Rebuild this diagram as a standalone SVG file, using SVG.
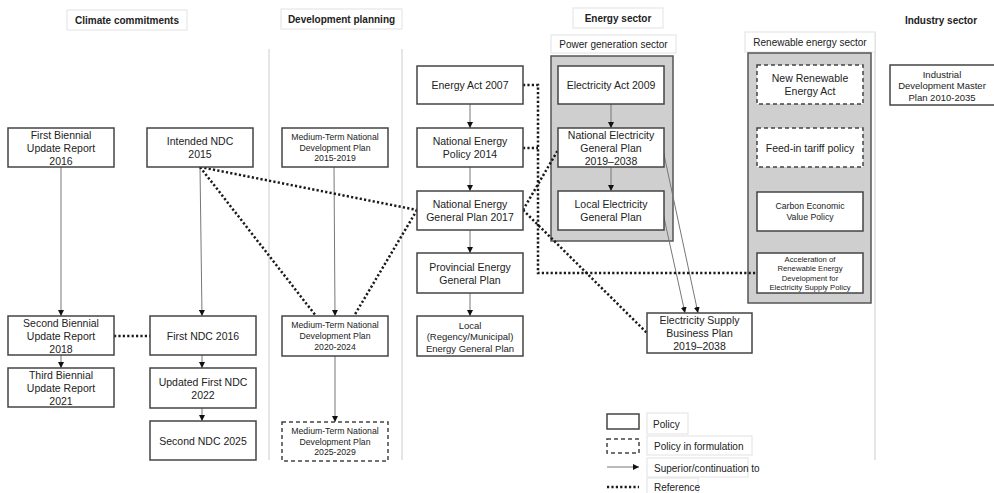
<svg xmlns="http://www.w3.org/2000/svg" width="994" height="493" viewBox="0 0 994 493">
<defs>
<marker id="arr" viewBox="0 0 10 10" refX="10" refY="5" markerWidth="6" markerHeight="6" orient="auto" markerUnits="userSpaceOnUse"><path d="M0,0 L10,5 L0,10 z" fill="#111"/></marker>
<style>
text{font-family:"Liberation Sans",Arial,sans-serif;fill:#222;dominant-baseline:central}
.t{font-size:10.5px;text-anchor:middle}
.s{font-size:8.7px;text-anchor:middle}
.m{font-size:9.5px;text-anchor:middle}
.xs{font-size:7.7px;text-anchor:middle}
.h{font-size:10px;font-weight:bold;text-anchor:middle}
.l{font-size:10px}
.lc{font-size:10px;text-anchor:middle}
.box{fill:#fff;stroke:#444;stroke-width:1.5}
.dbox{fill:#fff;stroke:#444;stroke-width:1.5;stroke-dasharray:4 3}
.lab{fill:#fff;stroke:#e2e2e2;stroke-width:1}
.grp{fill:#cfcfcf;stroke:#555;stroke-width:1.5}
.sep{stroke:#ccc;stroke-width:1;fill:none}
.sol{stroke:#777;stroke-width:1;fill:none;marker-end:url(#arr)}
.dot{stroke:#1a1a1a;stroke-width:2.5;fill:none;stroke-dasharray:2.2 2.2}
</style>
</defs>
<rect width="994" height="493" fill="#fff"/>

<g id="separators">
<line class="sep" x1="269" y1="49" x2="269" y2="460"/>
<line class="sep" x1="402" y1="49" x2="402" y2="460"/>
<line class="sep" x1="875" y1="33" x2="875" y2="460"/>
</g>

<g id="headers">
<rect class="lab" x="67" y="10" width="120" height="20"/>
<text class="h" x="127" y="20">Climate commitments</text>
<rect class="lab" x="281" y="9" width="121" height="20"/>
<text class="h" x="341.5" y="19">Development planning</text>
<rect class="lab" x="573" y="8" width="90" height="20"/>
<text class="h" x="618" y="18.5">Energy sector</text>
<text class="h" x="941" y="20">Industry sector</text>
</g>

<g id="power-sector">
<rect class="lab" x="551" y="35" width="125" height="18"/>
<text class="lc" x="613.5" y="44.5">Power generation sector</text>
<rect class="grp" x="551" y="56" width="122" height="185"/>
</g>
<g id="renewable-sector">
<rect class="lab" x="745" y="32" width="130" height="20"/>
<text class="lc" x="810" y="42.5">Renewable energy sector</text>
<rect class="grp" x="748" y="53" width="123" height="250"/>
</g>

<g id="connectors">
<path class="sol" d="M61,167 V316"/>
<path class="sol" d="M61,355 V368"/>
<path class="sol" d="M200,167 L202,316"/>
<path class="sol" d="M202,355 V368"/>
<path class="sol" d="M202,408 V421"/>
<path class="sol" d="M334,167 L335,316"/>
<path class="sol" d="M335,356 V422"/>
<path class="sol" d="M470,104 V128"/>
<path class="sol" d="M470,167 V191"/>
<path class="sol" d="M470,230 V253"/>
<path class="sol" d="M470,293 V316"/>
<path class="sol" d="M611,104 V128"/>
<path class="sol" d="M611,167 V191"/>
<path class="sol" d="M663,150 L698,313"/>
<path class="sol" d="M663,213 L685,313"/>
<path class="dot" d="M114,336 H150"/>
<path class="dot" d="M200,167 L417,210"/>
<path class="dot" d="M200,167 L316,316"/>
<path class="dot" d="M417,210 L354,316"/>
<path class="dot" d="M523,85 H538 V273 H757"/>
<path class="dot" d="M523,148 H538"/>
<path class="dot" d="M523,210 L558,150"/>
<path class="dot" d="M523,210 L647,333"/>
</g>

<g id="fbur"><rect class="box" x="8" y="128" width="106" height="39"/>
<text class="t"><tspan x="61" y="134.5">First Biennial</tspan><tspan x="61" y="147.5">Update Report</tspan><tspan x="61" y="160.5">2016</tspan></text></g>
<g id="indc"><rect class="box" x="147" y="128" width="106" height="39"/>
<text class="t"><tspan x="200" y="141">Intended NDC</tspan><tspan x="200" y="154">2015</tspan></text></g>
<g id="mtndp1"><rect class="box" x="282" y="128" width="106" height="39"/>
<text class="s"><tspan x="335" y="136.8">Medium-Term National</tspan><tspan x="335" y="147.5">Development Plan</tspan><tspan x="335" y="158.2">2015-2019</tspan></text></g>
<g id="sbur"><rect class="box" x="8" y="316" width="106" height="39"/>
<text class="t"><tspan x="61" y="322.5">Second Biennial</tspan><tspan x="61" y="335.5">Update Report</tspan><tspan x="61" y="348.5">2018</tspan></text></g>
<g id="tbur"><rect class="box" x="8" y="368" width="106" height="39"/>
<text class="t"><tspan x="61" y="374.5">Third Biennial</tspan><tspan x="61" y="387.5">Update Report</tspan><tspan x="61" y="400.5">2021</tspan></text></g>
<g id="fndc"><rect class="box" x="150" y="316" width="106" height="39"/>
<text class="t" x="203" y="335.5">First NDC 2016</text></g>
<g id="ufndc"><rect class="box" x="150" y="368" width="106" height="40"/>
<text class="t"><tspan x="203" y="381.5">Updated First NDC</tspan><tspan x="203" y="394.5">2022</tspan></text></g>
<g id="sndc"><rect class="box" x="150" y="421" width="106" height="39"/>
<text class="t" x="203" y="440.5">Second NDC 2025</text></g>
<g id="mtndp2"><rect class="box" x="282" y="316" width="106" height="40"/>
<text class="s"><tspan x="335" y="325.3">Medium-Term National</tspan><tspan x="335" y="336">Development Plan</tspan><tspan x="335" y="346.7">2020-2024</tspan></text></g>
<g id="mtndp3"><rect class="dbox" x="282" y="422" width="106" height="39"/>
<text class="s"><tspan x="335" y="430.8">Medium-Term National</tspan><tspan x="335" y="441.5">Development Plan</tspan><tspan x="335" y="452.2">2025-2029</tspan></text></g>

<g id="ea2007"><rect class="box" x="417" y="66" width="106" height="38"/>
<text class="t" x="470" y="85">Energy Act 2007</text></g>
<g id="nep2014"><rect class="box" x="417" y="128" width="106" height="39"/>
<text class="t"><tspan x="470" y="141">National Energy</tspan><tspan x="470" y="154">Policy 2014</tspan></text></g>
<g id="negp2017"><rect class="box" x="417" y="191" width="106" height="39"/>
<text class="t"><tspan x="470" y="204">National Energy</tspan><tspan x="470" y="217">General Plan 2017</tspan></text></g>
<g id="pegp"><rect class="box" x="417" y="253" width="106" height="40"/>
<text class="t"><tspan x="470" y="266.5">Provincial Energy</tspan><tspan x="470" y="279.5">General Plan</tspan></text></g>
<g id="legp"><rect class="box" x="417" y="316" width="106" height="40"/>
<text class="m"><tspan x="470" y="324.5">Local</tspan><tspan x="470" y="336">(Regency/Municipal)</tspan><tspan x="470" y="347.5">Energy General Plan</tspan></text></g>

<g id="elact2009"><rect class="box" x="558" y="66" width="106" height="38"/>
<text class="t" x="611" y="85">Electricity Act 2009</text></g>
<g id="negpe"><rect class="box" x="558" y="128" width="106" height="39"/>
<text class="t"><tspan x="611" y="134.5">National Electricity</tspan><tspan x="611" y="147.5">General Plan</tspan><tspan x="611" y="160.5">2019–2038</tspan></text></g>
<g id="legpe"><rect class="box" x="558" y="191" width="106" height="39"/>
<text class="t"><tspan x="611" y="204">Local Electricity</tspan><tspan x="611" y="217">General Plan</tspan></text></g>

<g id="nrea"><rect class="dbox" x="757" y="65" width="106" height="39"/>
<text class="t"><tspan x="810" y="78">New Renewable</tspan><tspan x="810" y="91">Energy Act</tspan></text></g>
<g id="fit"><rect class="dbox" x="757" y="128" width="106" height="39"/>
<text class="t" x="810" y="147.5">Feed-in tariff policy</text></g>
<g id="cevp"><rect class="box" x="757" y="192" width="106" height="39"/>
<text class="s"><tspan x="810" y="206.2">Carbon Economic</tspan><tspan x="810" y="216.8">Value Policy</tspan></text></g>
<g id="accel"><rect class="box" x="757" y="253" width="106" height="40"/>
<text class="xs"><tspan x="810" y="258.9">Acceleration of</tspan><tspan x="810" y="268.3">Renewable Energy</tspan><tspan x="810" y="277.7">Development for</tspan><tspan x="810" y="287.1">Electricity Supply Policy</tspan></text></g>

<g id="esbp"><rect class="box" x="647" y="313" width="105" height="40"/>
<text class="t"><tspan x="699.5" y="320">Electricity Supply</tspan><tspan x="699.5" y="333">Business Plan</tspan><tspan x="699.5" y="346">2019–2038</tspan></text></g>

<g id="idmp"><rect class="box" x="890" y="65" width="106" height="40"/>
<text class="m"><tspan x="942" y="73.5">Industrial</tspan><tspan x="942" y="85">Development Master</tspan><tspan x="942" y="96.5">Plan 2010-2035</tspan></text></g>

<g id="legend">
<rect class="box" x="607" y="414" width="32" height="15"/>
<rect class="lab" x="647" y="413" width="41" height="21"/>
<text class="l" x="653" y="424">Policy</text>
<rect class="dbox" x="607" y="439" width="32" height="14"/>
<rect class="lab" x="647" y="436" width="105" height="19"/>
<text class="l" x="654" y="446">Policy in formulation</text>
<path class="sol" d="M607,467 H639"/>
<rect class="lab" x="647" y="458" width="101" height="19"/>
<text class="l" x="654" y="468">Superior/continuation to</text>
<path class="dot" d="M607,487 H639"/>
<rect class="lab" x="647" y="478" width="51" height="16"/>
<text class="l" x="654" y="487">Reference</text>
</g>
</svg>
